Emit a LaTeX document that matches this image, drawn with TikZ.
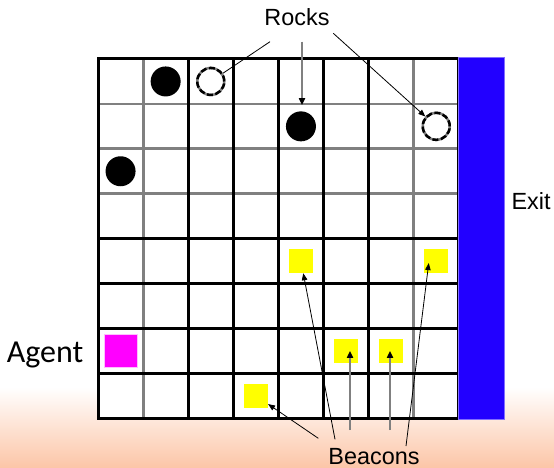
\documentclass[tikz,border=0pt]{standalone}
\usepackage{fontspec}
\setmainfont{Liberation Sans}
\newfontfamily\agentfont{Carlito}
\usetikzlibrary{arrows.meta,calc}
\definecolor{exitblue}{RGB}{34,0,255}
\definecolor{exitedge}{RGB}{130,110,255}
\definecolor{gridgray}{RGB}{128,128,128}
\definecolor{peach}{RGB}{252,198,168}
\definecolor{beaconyellow}{RGB}{255,255,0}
\definecolor{agentmag}{RGB}{255,0,255}
\definecolor{agentedge}{RGB}{255,190,255}
\begin{document}
\begin{tikzpicture}[x=1pt,y=1pt,
  lbl/.style={font=\fontsize{23.4}{28}\selectfont, inner sep=0pt, anchor=base},
  rockfull/.style={circle, fill=black, minimum size=30pt, inner sep=0pt},
  rockopen/.style={circle, fill=white, minimum size=27pt, inner sep=0pt, draw=gridgray, line width=2.5pt,
    postaction={draw=black, line width=2.5pt, dash pattern=on 6pt off 2.5pt}},
  beacon/.style={fill=beaconyellow, minimum size=24pt, inner sep=0pt},
  agentbox/.style={fill=agentmag, draw=agentedge, line width=1pt, minimum size=33pt, inner sep=0pt},
  exitbar/.style={fill=exitblue, draw=exitedge, line width=0.8pt, minimum width=46pt, minimum height=362pt, inner sep=0pt},
  thinarrow/.style={draw=black, line width=0.8pt, -{Triangle[length=7pt,width=5.5pt]}},
  grayarrow/.style={draw=gridgray, line width=1.8pt, -{Triangle[length=7pt,width=6pt,color=black]}},
  thinline/.style={draw=black, line width=0.8pt},
  blackgrid/.style={line width=3pt, draw=black},
  graygrid/.style={line width=2.8pt, draw=gridgray},
]
\useasboundingbox (0,0) rectangle (554,467);
\fill[white] (0,0) rectangle (554,467);
\shade[top color=white, bottom color=peach] (0,0) rectangle (554,80);

\begin{scope}[shift={(98,408)}, x=45.1pt, y=-44.9pt]
  \fill[white] (0,0) rectangle (8,8);
  % gray lines
  \foreach \j in {1,2,3} \draw[graygrid] (0,\j) -- (8,\j);
  \foreach \i in {1,7} \draw[graygrid] (\i,0) -- (\i,8);
  % black lines
  \foreach \j in {4,5,6,7} \draw[blackgrid] (0,\j) -- (8,\j);
  \foreach \i in {2,3,4,5,6} \draw[blackgrid] (\i,0) -- (\i,8);
  \draw[blackgrid, line join=miter] (0,0) rectangle (8,8);
  % rocks
  \node[rockfull] (rk1) at (1.5,0.5) {};
  \node[rockopen] (rk2) at (2.5,0.5) {};
  \node[rockfull] (rk3) at (4.5,1.5) {};
  \node[rockopen] (rk4) at (7.5,1.5) {};
  \node[rockfull] (rk5) at (0.5,2.5) {};
  % beacons
  \node[beacon] (bc1) at (4.5,4.5) {};
  \node[beacon] (bc2) at (7.5,4.5) {};
  \node[beacon] (bc3) at (5.5,6.5) {};
  \node[beacon] (bc4) at (6.5,6.5) {};
  \node[beacon] (bc5) at (3.5,7.5) {};
  % agent
  \node[agentbox] (ag) at (0.5,6.5) {};
\end{scope}

\node[exitbar] (bar) at (481,229) {};

% labels
\node[lbl] (rocks) at (297,441) {Rocks};
\node[lbl] (exit) at (531,258) {Exit};
\node[lbl] (beacons) at (374,2.5) {Beacons};
\node[font=\agentfont\fontsize{32}{38}\selectfont, inner sep=0pt, anchor=base] (agent) at (45,105) {Agent};

% rock connectors
\coordinate (r1) at (270,425.3);
\coordinate (r2) at (302,425.3);
\coordinate (r3) at (333.3,433.7);
\draw[thinline] (r1) -- (rk2);
\draw[grayarrow, shorten >=6pt] (r2) -- (r2 |- rk3.north);
\draw[thinarrow] (r3) -- (rk4);

% beacon connectors
\coordinate (s1) at (318.3,28.7);
\coordinate (s2) at (335,27.7);
\coordinate (s3) at (350,37);
\coordinate (s4) at (390,37);
\coordinate (s5) at (406,21);
\draw[thinarrow] (s1) -- (bc5);
\draw[thinarrow] (s2) -- (bc1);
\draw[grayarrow] (s3) -- (s3 |- bc3.center);
\draw[grayarrow] (s4) -- (s4 |- bc4.center);
\draw[thinarrow] (s5) -- ($(bc2.center)+(-7.5,-2)$);
\end{tikzpicture}
\end{document}
